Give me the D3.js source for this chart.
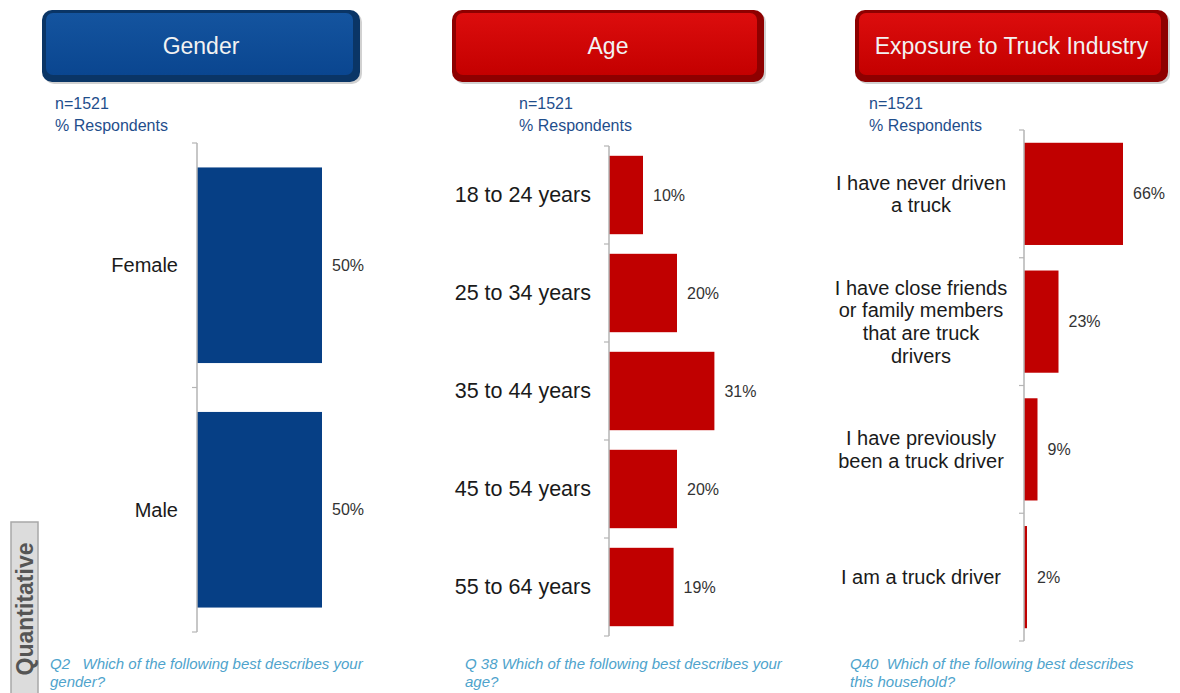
<!DOCTYPE html>
<html>
<head>
<meta charset="utf-8">
<script src="https://cdn.jsdelivr.net/npm/d3@7/dist/d3.min.js"></script>
<style>
  html, body { margin: 0; padding: 0; background: #ffffff; }
  svg { display: block; font-family: "Liberation Sans", Arial, sans-serif; }
  .note { white-space: pre; }
</style>
</head>
<body>
<svg id="chart" width="1180" height="693"></svg>
<script>
// ---- survey data ----
const sampleLabel = "n=1521";
const unitLabel = "% Respondents";

const genderCategories = ["Female", "Male"];
const genderValues = [50, 50];

const ageCategories = ["18 to 24 years", "25 to 34 years", "35 to 44 years", "45 to 54 years", "55 to 64 years"];
const ageValues = [10, 20, 31, 20, 19];

const truckCategories = [
  ["I have never driven", "a truck"],
  ["I have close friends", "or family members", "that are truck", "drivers"],
  ["I have previously", "been a truck driver"],
  ["I am a truck driver"]
];
const truckValues = [66, 23, 9, 2];

const panelTitles = ["Gender", "Age", "Exposure to Truck Industry"];
const questionTexts = [
  ["Q2   Which of the following best describes your", "gender?"],
  ["Q 38 Which of the following best describes your", "age?"],
  ["Q40  Which of the following best describes", "this household?"]
];

// ---- layout ----
const svg = d3.select("#chart");
const defs = svg.append("defs");

const themes = {
  blue: { rim: "#0a3566", top: "#14549f", bottom: "#0a4690", bar: "#063f85" },
  red:  { rim: "#8e0000", top: "#dc0d0d", bottom: "#c40000", bar: "#c00000" }
};
Object.entries(themes).forEach(([k, t]) => {
  const g = defs.append("linearGradient").attr("id", "grad-" + k)
    .attr("x1", 0).attr("y1", 0).attr("x2", 0).attr("y2", 1);
  g.append("stop").attr("offset", "0%").attr("stop-color", t.top);
  g.append("stop").attr("offset", "100%").attr("stop-color", t.bottom);
});

const panels = [
  {
    title: panelTitles[0], theme: "blue",
    header: { x: 42, w: 318 }, sub: 55, note: 50,
    axisX: 197, yRange: [143, 632], xMax: 250,
    cats: genderCategories.map(d => [d]), vals: genderValues,
    labelX: 178, labelAnchor: "end", labelSize: 20, notes: questionTexts[0]
  },
  {
    title: panelTitles[1], theme: "red",
    header: { x: 452, w: 312 }, sub: 519, note: 465,
    axisX: 609, yRange: [146, 636], xMax: 340,
    cats: ageCategories.map(d => [d]), vals: ageValues,
    labelX: 591, labelAnchor: "end", labelSize: 21.5, notes: questionTexts[1]
  },
  {
    title: panelTitles[2], theme: "red",
    header: { x: 855, w: 313 }, sub: 869, note: 850,
    axisX: 1024, yRange: [130, 641], xMax: 150,
    cats: truckCategories, vals: truckValues,
    labelX: 921, labelAnchor: "middle", labelSize: 20, notes: questionTexts[2]
  }
];

panels.forEach(p => {
  const t = themes[p.theme];
  const g = svg.append("g");

  // header button
  const hb = g.append("g");
  hb.append("rect")
    .attr("x", p.header.x + 2).attr("y", 12)
    .attr("width", p.header.w).attr("height", 72)
    .attr("rx", 10).attr("fill", "#000").attr("opacity", 0.18);
  hb.append("rect")
    .attr("x", p.header.x).attr("y", 10)
    .attr("width", p.header.w).attr("height", 72)
    .attr("rx", 10).attr("fill", t.rim);
  hb.append("rect")
    .attr("x", p.header.x + 4).attr("y", 13)
    .attr("width", p.header.w - 11).attr("height", 62)
    .attr("rx", 7).attr("fill", "url(#grad-" + p.theme + ")");
  hb.append("text")
    .attr("x", p.header.x + p.header.w / 2).attr("y", 46)
    .attr("text-anchor", "middle").attr("dominant-baseline", "central")
    .attr("fill", "#f2f2f2").attr("font-size", 23)
    .text(p.title);

  // sample size and unit
  g.append("text").attr("x", p.sub).attr("y", 109)
    .attr("fill", "#1f4e8c").attr("font-size", 16).text(sampleLabel);
  g.append("text").attr("x", p.sub).attr("y", 131)
    .attr("fill", "#1f4e8c").attr("font-size", 16).text(unitLabel);

  // scales
  const y = d3.scaleBand()
    .domain(d3.range(p.vals.length))
    .range(p.yRange)
    .paddingInner(0.2).paddingOuter(0.1);
  const x = d3.scaleLinear().domain([0, 100]).range([p.axisX, p.axisX + p.xMax]);

  // bars
  g.selectAll("rect.bar").data(p.vals).join("rect")
    .attr("class", "bar")
    .attr("x", x(0))
    .attr("y", (d, i) => y(i))
    .attr("width", d => x(d) - x(0))
    .attr("height", y.bandwidth())
    .attr("fill", t.bar);

  // category axis with ticks at band boundaries
  const [y0, y1] = p.yRange;
  const bounds = d3.range(p.vals.length + 1).map(i => y0 + i * y.step());
  g.append("line")
    .attr("x1", p.axisX).attr("x2", p.axisX)
    .attr("y1", y0).attr("y2", y1)
    .attr("stroke", "#b5b5b5").attr("stroke-width", 1.5);
  g.selectAll("line.tick").data(bounds).join("line")
    .attr("class", "tick")
    .attr("x1", p.axisX - 5).attr("x2", p.axisX)
    .attr("y1", d => d).attr("y2", d => d)
    .attr("stroke", "#b5b5b5").attr("stroke-width", 1.2);

  // category labels
  const lh = 22.7;
  p.cats.forEach((lines, i) => {
    const cy = y(i) + y.bandwidth() / 2;
    const txt = g.append("text")
      .attr("text-anchor", p.labelAnchor)
      .attr("fill", "#1a1a1a").attr("font-size", p.labelSize);
    lines.forEach((ln, j) => {
      txt.append("tspan")
        .attr("x", p.labelX)
        .attr("y", cy + (j - (lines.length - 1) / 2) * lh)
        .attr("dominant-baseline", "central")
        .text(ln);
    });
  });

  // value labels
  g.selectAll("text.val").data(p.vals).join("text")
    .attr("class", "val")
    .attr("x", d => x(d) + 10)
    .attr("y", (d, i) => y(i) + y.bandwidth() / 2)
    .attr("dominant-baseline", "central")
    .attr("fill", "#333").attr("font-size", 16)
    .text(d => d + "%");

  // question footnote
  p.notes.forEach((ln, j) => {
    g.append("text")
      .attr("class", "note")
      .attr("x", p.note).attr("y", 669 + j * 18)
      .attr("fill", "#4ea3cc").attr("font-size", 15)
      .attr("font-style", "italic")
      .text(ln);
  });
});

// side tab
const tab = svg.append("g");
tab.append("rect")
  .attr("x", 11).attr("y", 522).attr("width", 27).attr("height", 175)
  .attr("fill", "#dcdcdc").attr("stroke", "#a8a8a8").attr("stroke-width", 1.5);
tab.append("text")
  .attr("transform", "translate(25,609) rotate(-90)")
  .attr("text-anchor", "middle").attr("dominant-baseline", "central")
  .attr("fill", "#555").attr("font-size", 23).attr("font-weight", "bold")
  .text("Quantitative");
</script>
</body>
</html>
